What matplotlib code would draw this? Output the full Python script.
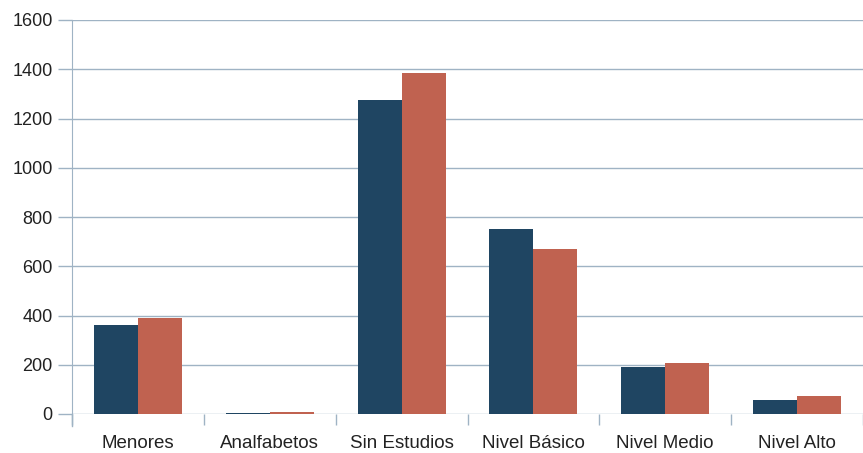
import matplotlib
matplotlib.use("Agg")
import matplotlib.pyplot as plt
import numpy as np

categories = ["Menores", "Analfabetos", "Sin Estudios", "Nivel Básico", "Nivel Medio", "Nivel Alto"]
series_a = [360, 5, 1275, 750, 190, 57]
series_b = [390, 8, 1385, 670, 207, 73]
yticks = [0, 200, 400, 600, 800, 1000, 1200, 1400, 1600]

plt.rcParams['font.family'] = ['Liberation Sans', 'DejaVu Sans']

fig = plt.figure(figsize=(8.63, 4.53), dpi=100)
ax = fig.add_axes([72/863, 39/453, (863-72)/863, (414-20)/453])

x = np.arange(len(categories))
w = 1/3
ax.bar(x - w/2, series_a, width=w, color="#1f4562", zorder=3)
ax.bar(x + w/2, series_b, width=w, color="#c06250", zorder=3)

grid_c = "#9fb3c4"
ax.set_ylim(0, 1600)
ax.set_xlim(-0.5, len(categories) - 0.5)
ax.set_yticks(yticks)
ax.set_yticklabels([str(v) for v in yticks], fontsize=13, color="#222222")
ax.yaxis.grid(True, color=grid_c, linewidth=1, zorder=0)
ax.set_xticks(x)
ax.set_xticklabels(categories, fontsize=13.5, color="#222222")
ax.set_xticks(np.arange(len(categories) + 1) - 0.5, minor=True)
ax.tick_params(axis='x', which='major', length=0, pad=15)
ax.tick_params(axis='x', which='minor', length=8, color=grid_c, width=1)
ax.tick_params(axis='y', length=10, color=grid_c, width=1, pad=4)
for s in ["top", "right", "bottom"]:
    ax.spines[s].set_visible(False)
ax.spines["left"].set_color(grid_c)
ax.plot([0, 0], [0, -12/394], transform=ax.transAxes, color=grid_c, lw=1, clip_on=False)

fig.savefig("out.png", dpi=100)
